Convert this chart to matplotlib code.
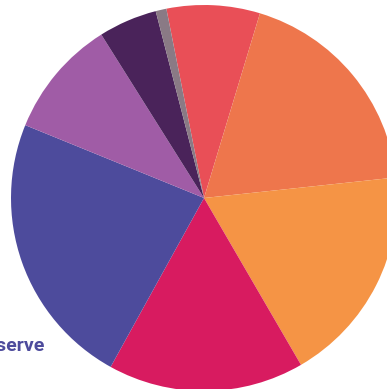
import matplotlib.pyplot as plt

# slice shares, clockwise from the top
labels = ["", "", "", "", "Reserve", "", "", ""]
shares = [7.8, 18.6, 18.3, 16.4, 23.1, 9.9, 4.9, 0.9]
colors = ["#E94F57", "#EE764C", "#F59445", "#D81B60",
          "#4D4B9C", "#A05CA6", "#4A235A", "#8A7A85"]

W, H = 387, 389
fig = plt.figure(figsize=(W / 100, H / 100), dpi=100)
ax = fig.add_axes([0, 0, 1, 1])
ax.set_xlim(0, W)
ax.set_ylim(0, H)
ax.set_aspect("equal")
ax.axis("off")

ax.pie(shares, colors=colors, center=(204, H - 198), radius=193,
       startangle=101.25, counterclock=False,
       wedgeprops=dict(linewidth=0), frame=True)
ax.set_xlim(0, W)
ax.set_ylim(0, H)
ax.axis("off")

# label of the big blue slice, cut off by the left edge
ax.text(45, H - 351, labels[4], ha="right", va="baseline",
        fontsize=14, fontweight="bold", family="Roboto", color="#4D4B9C")

fig.savefig("out.png", dpi=100)
